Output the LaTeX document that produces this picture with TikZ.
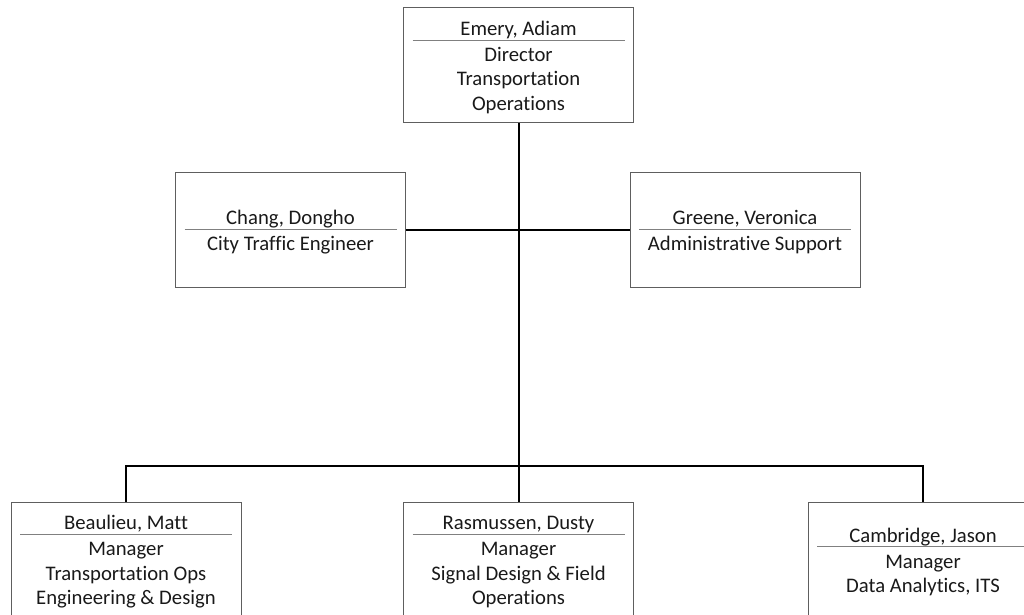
\documentclass[tikz,border=0pt]{standalone}
\usepackage{fontspec}
\setmainfont{Carlito}[Ligatures={NoCommon}]
\usepackage{colortbl}
\definecolor{cgrey}{HTML}{5E5E5E}
\definecolor{csep}{HTML}{808080}
\tikzset{
  every picture/.style={line width=1pt},
  box/.style={draw=cgrey, line width=0.9pt, minimum width=230pt, minimum height=115pt, inner sep=0pt,
    font=\fontsize{20.7}{24.5}\selectfont, text=black!90},
  link/.style={draw=black, line width=2pt},
}
\newcommand{\staff}[2]{% #1 = name, #2 = title lines
  \arrayrulecolor{csep}\setlength{\arrayrulewidth}{0.8pt}%
  \raisebox{-3pt}[\height][\depth]{\begin{tabular}{@{}c@{}}\makebox[212pt]{#1}\\[-3pt]\hline\rule{0pt}{21pt}#2\end{tabular}}}

\begin{document}
\begin{tikzpicture}[x=1pt, y=-1pt]
  \useasboundingbox (0,0) rectangle (1024,614);
  % director
  \node[box] (dir) at (518.5,65) {\staff{Emery, Adiam}{Director\\Transportation\\Operations}};
  % staff row
  \node[box] (chang) at (290.5,229.5) {\staff{Chang, Dongho}{City Traffic Engineer}};
  \node[box] (greene) at (745,229.5) {\staff{Greene, Veronica}{Administrative Support}};
  % managers
  \node[box] (beau) at (126,559.5) {\staff{Beaulieu, Matt}{Manager\\Transportation Ops\\Engineering \& Design}};
  \node[box] (ras) at (518.5,559.5) {\staff{Rasmussen, Dusty}{Manager\\Signal Design \& Field\\Operations}};
  \node[box] (camb) at (923,559.5) {\staff{Cambridge, Jason}{Manager\\Data Analytics, ITS}};
  \coordinate (bus) at (518.5,466);
  \draw[link] (dir) -- (ras);
  \draw[link] (chang) -- (greene);
  \draw[link] (beau) |- (bus) -| (camb);
\end{tikzpicture}
\end{document}
